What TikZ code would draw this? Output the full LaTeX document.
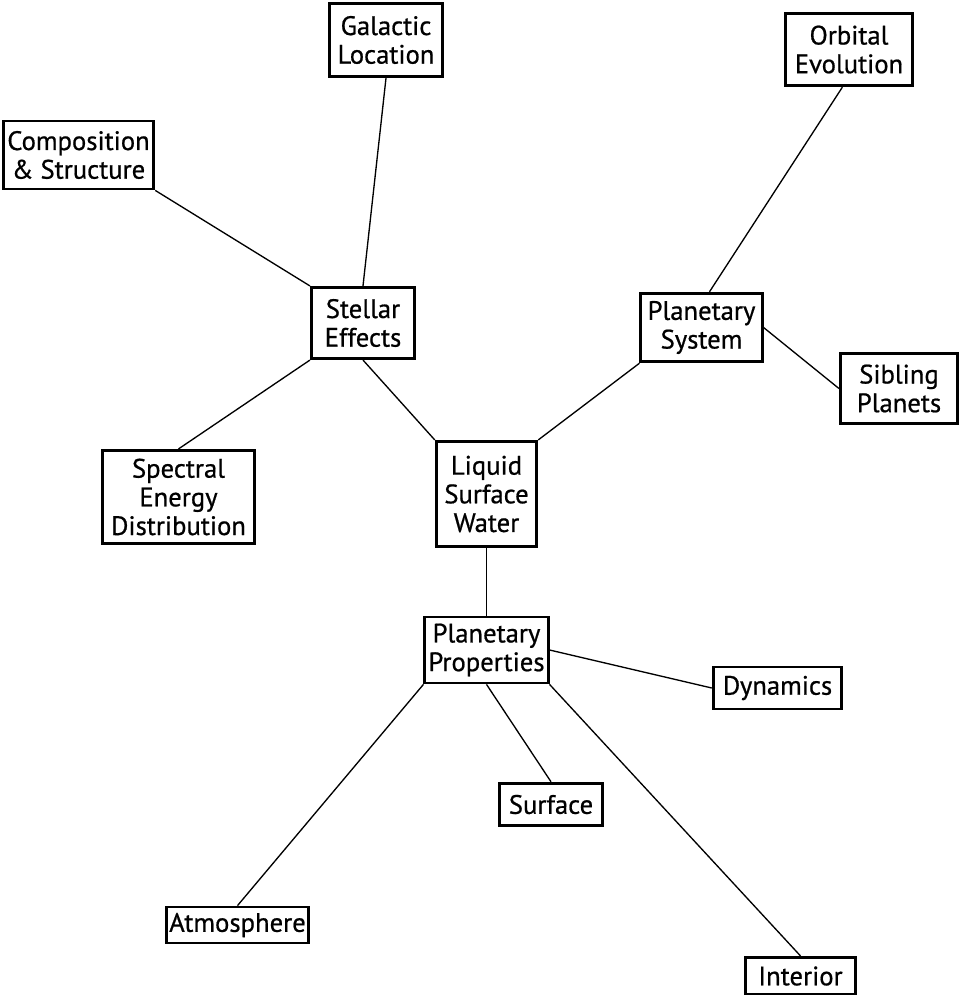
\documentclass[tikz,border=0pt]{standalone}
\usepackage{fontspec}
\setmainfont{PT Sans}
\newfontfamily\topicfont{PT Sans}[FakeBold=0.7]

\tikzset{
  topic/.style={draw, line width=2.1pt, inner sep=0pt, align=center,
    font={\topicfont\fontsize{20}{21.5}\selectfont}},
  link/.style={line width=1pt}
}

\begin{document}
\begin{tikzpicture}[x=0.75pt,y=0.75pt,yscale=-1,xscale=1]
\useasboundingbox (0,0) rectangle (961,995);

% Boxes
\node [topic, minimum width=85pt, minimum height=55pt] (galactic) at (386,40) {Galactic\\Location};
\node [topic, minimum width=95.5pt, minimum height=54.5pt] (orbital) at (849,49.5) {Orbital\\Evolution};
\node [topic, minimum width=113pt, minimum height=51pt] (comp) at (78.5,155) {Composition\\\& Structure};
\node [topic, minimum width=77.5pt, minimum height=53.5pt] (stellar) at (363,323) {Stellar\\Effects};
\node [topic, minimum width=91pt, minimum height=51.5pt] (plansys) at (701.5,327.5) {Planetary\\System};
\node [topic, minimum width=88pt, minimum height=52pt] (sibling) at (899,388.5) {Sibling\\Planets};
\node [topic, minimum width=114.5pt, minimum height=70pt] (spectral) at (178.5,497) {Spectral\\Energy\\Distribution};
\node [topic, minimum width=75.5pt, minimum height=79pt] (liquid) at (486.5,494) {Liquid\\Surface\\Water};
\node [topic, minimum width=92.5pt, minimum height=49.5pt] (planprop) at (486.5,650) {Planetary\\Properties};
\node [topic, minimum width=96.5pt, minimum height=31.5pt] (dynamics) at (777.5,688) {Dynamics};
\node [topic, minimum width=77.5pt, minimum height=32pt] (surface) at (551,804.5) {Surface};
\node [topic, minimum width=107pt, minimum height=27pt] (atmos) at (237.5,925) {Atmosphere};
\node [topic, minimum width=83pt, minimum height=28pt] (interior) at (800.5,976) {Interior};

% Connections
\draw [link] (galactic.south) -- (stellar.north);
\draw [link] (comp.south east) -- (stellar.north west);
\draw [link] (stellar.south west) -- (spectral.north);
\draw [link] (stellar.south) -- (liquid.north west);
\draw [link] (liquid.north east) -- (plansys.south west);
\draw [link] ([xshift=6pt]plansys.north) -- ([xshift=-5pt]orbital.south);
\draw [link] (plansys.east) -- (sibling.west);
\draw [link] (liquid.south) -- (planprop.north);
\draw [link] (planprop.east) -- (dynamics.west);
\draw [link] (planprop.south) -- (surface.north);
\draw [link] (planprop.south west) -- (atmos.north);
\draw [link] (planprop.south east) -- (interior.north);

\end{tikzpicture}
\end{document}
